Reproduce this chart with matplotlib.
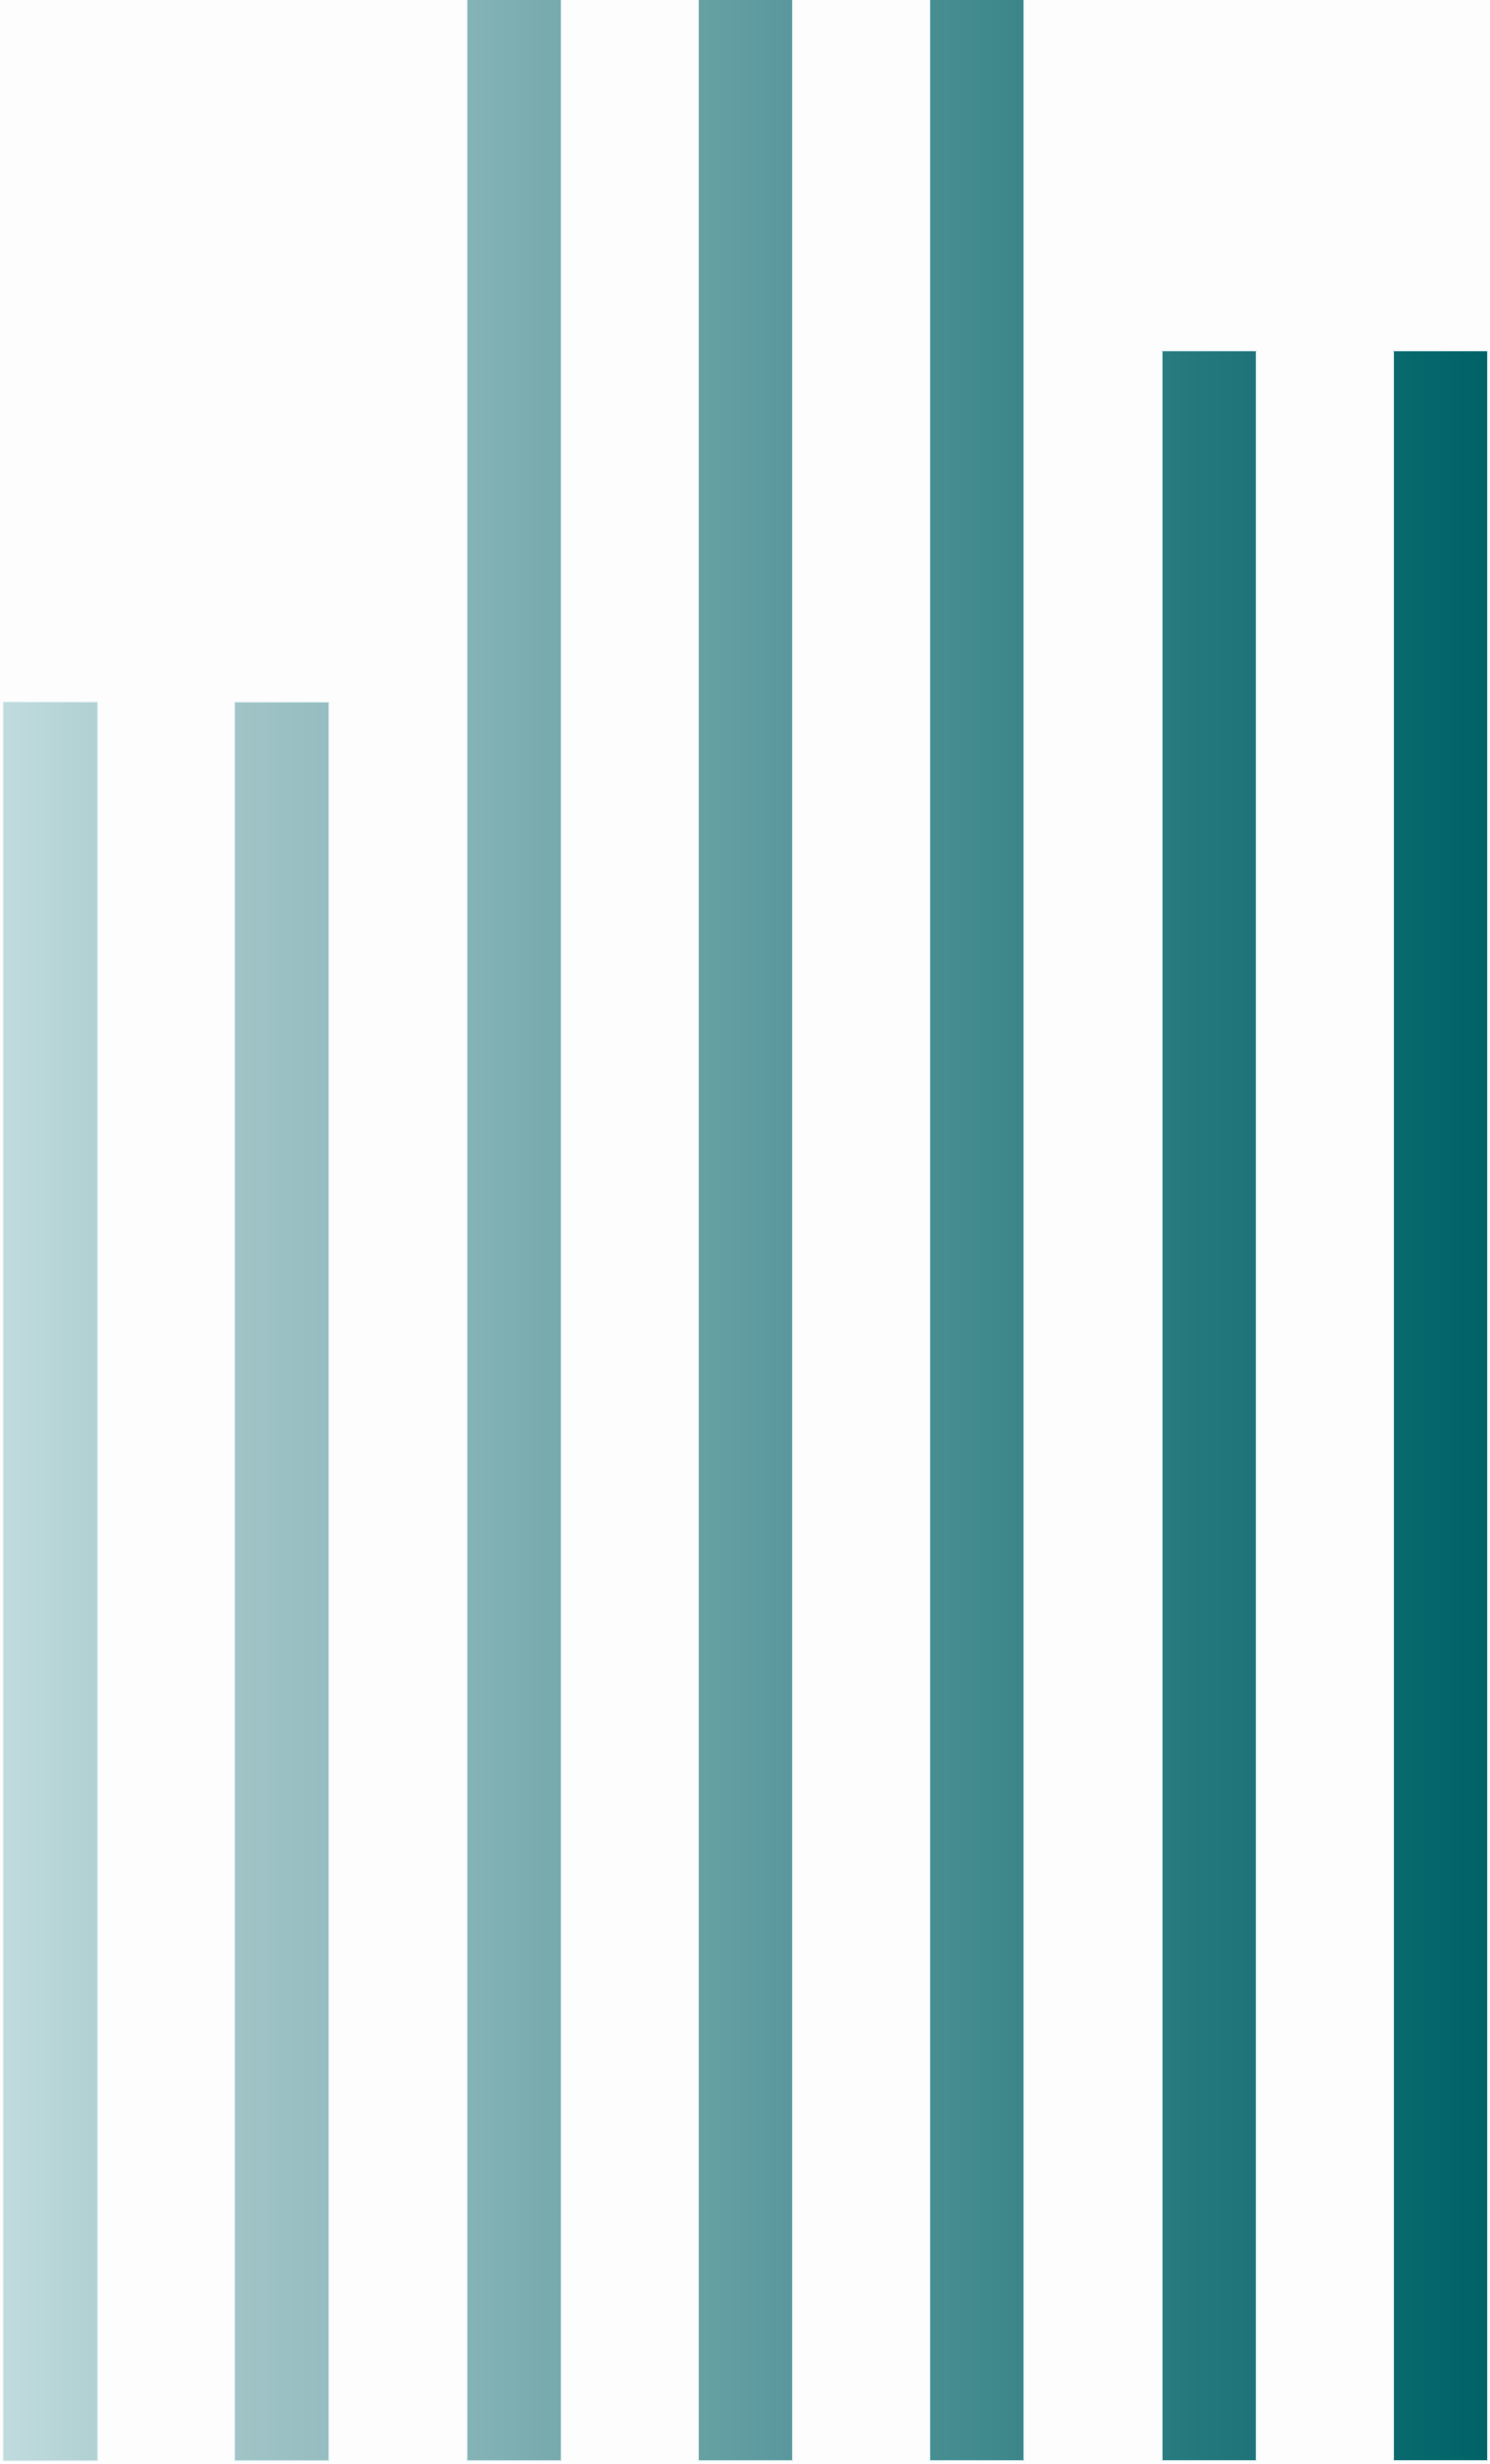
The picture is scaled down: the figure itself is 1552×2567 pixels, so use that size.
import matplotlib
matplotlib.use("Agg")
import matplotlib.pyplot as plt
import numpy as np
from matplotlib.colors import LinearSegmentedColormap

categories = ["A", "B", "C", "D", "E", "F", "G"]
values = [5, 5, 7, 7, 7, 6, 6]
left_colors = ["#c1dcde", "#a2c5c7", "#85b4b7", "#67a1a4", "#488f92", "#297c80", "#0a6a6e"]
right_colors = ["#b1d1d3", "#96bdc1", "#77aaad", "#5a989e", "#3c868a", "#1e7479", "#006368"]

fig = plt.figure(figsize=(15.52, 25.67), dpi=100)
fig.patch.set_facecolor("#fdfdfd")
ax = fig.add_axes([0, 0, 1, 1])
ax.set_facecolor("#fdfdfd")

x = np.arange(len(categories))
width = 0.405
bars = ax.bar(x, values, width=width, color="none", edgecolor="#d6eaec", linewidth=0.8, zorder=3)

grad = np.linspace(0, 1, 256).reshape(1, -1)
for bar, lc, rc in zip(bars, left_colors, right_colors):
    cmap = LinearSegmentedColormap.from_list("g", [lc, rc])
    x0, y0 = bar.get_x(), bar.get_y()
    w, h = bar.get_width(), bar.get_height()
    im = ax.imshow(grad, extent=[x0, x0 + w, y0, y0 + h], aspect="auto",
                   cmap=cmap, origin="lower", zorder=2, interpolation="bilinear")
    im.set_clip_path(bar)

ax.set_xlim(-0.2155, 6.2155)
ax.set_ylim(-0.011, 6.995)
ax.axis("off")

fig.savefig("out.png", dpi=100, facecolor=fig.get_facecolor())
